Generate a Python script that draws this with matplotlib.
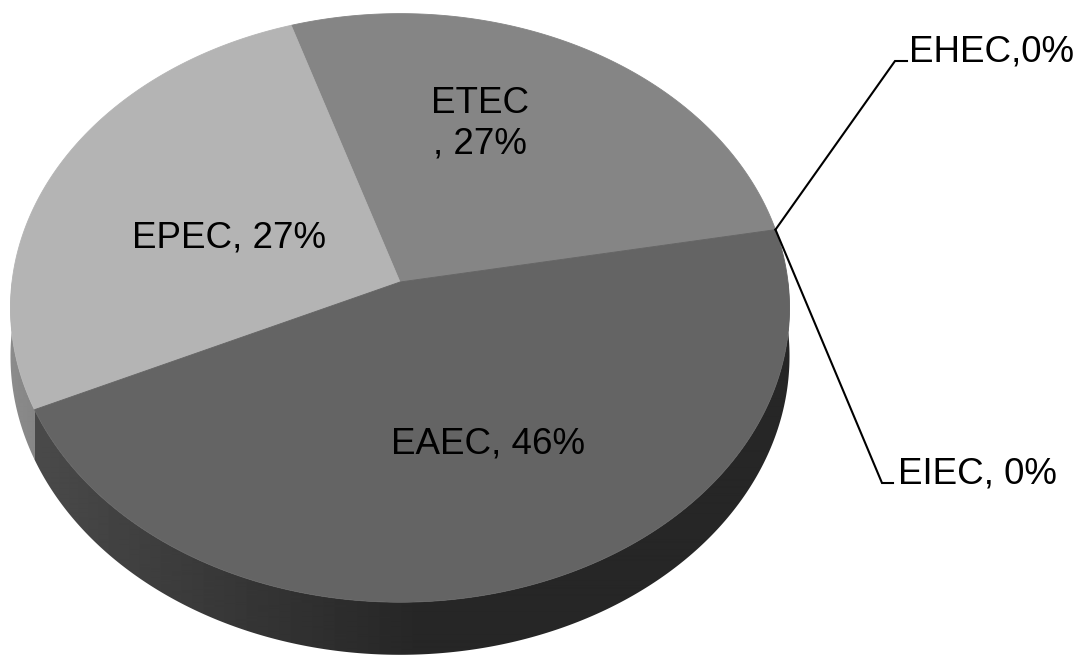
import numpy as np
import matplotlib
matplotlib.use("Agg")
import matplotlib.pyplot as plt
from matplotlib.patches import Polygon

# Pathotype shares (percent), listed counter-clockwise from the start angle
categories = ["ETEC", "EPEC", "EAEC", "EHEC", "EIEC"]
shares = [27, 27, 46, 0, 0]
separators = ["\n, ", ", ", ", ", ",", ", "]
face_colors = [133, 180, 100, 100, 100]   # grey level of each slice's top face

plt.rcParams["font.family"] = ["Liberation Sans", "DejaVu Sans"]

W, H = 1085, 656
fig = plt.figure(figsize=(W / 100, H / 100), dpi=100)
ax = fig.add_axes([0, 0, 1, 1])
ax.set_xlim(0, W)
ax.set_ylim(H, 0)
ax.axis("off")

# 3-D pie projection (pixel space, y pointing down)
CX, CY = 400.0, 282.0
RX, RY = 388.0, 292.0
K = 0.088          # perspective strength
DEPTH = 48.0       # thickness of the disc
START = 10.5       # angle of the first slice boundary (degrees)


def proj(theta_deg, z=0.0):
    t = np.radians(theta_deg)
    s = 1.0 / (1.0 + K * np.sin(t))
    x = CX + RX * np.cos(t) * s
    y = CY - RY * np.sin(t) * s + z * DEPTH * s
    return x, y


def grey(v):
    v = float(np.clip(v, 0, 255)) / 255.0
    return (v, v, v)


def side_factor(theta_deg):
    c = np.cos(np.radians(theta_deg))
    return np.maximum(0.38, 0.40 - 0.38 * c)


spans = []
a = START
for v in shares:
    b = a + 360.0 * v / sum(shares)
    spans.append((a, b))
    a = b

# lookup: screen x along the front rim -> rim angle
front_theta = np.linspace(180.0, 360.0, 2000)
front_x, _ = proj(front_theta)
cols = np.arange(0, W + 1, 1.0)
col_theta = np.interp(cols, front_x, front_theta)

# outer wall (front half only), shaded with a horizontal gradient
for (a0, a1), base in zip(spans, face_colors):
    for off in (0.0, 360.0):
        lo, hi = max(a0, 180.0 + off), min(a1, 360.0 + off)
        if hi <= lo:
            continue
        th = np.linspace(lo, hi, 400)
        xt, yt = proj(th)
        xb, yb = proj(th[::-1], 1)
        pts = list(zip(xt, yt)) + list(zip(xb, yb))
        wall = Polygon(pts, closed=True, facecolor="none", edgecolor="none",
                       zorder=1)
        ax.add_patch(wall)
        shade = np.clip(base * side_factor(col_theta), 0, 255) / 255.0
        img = np.tile(shade, (2, 1))
        im = ax.imshow(img, cmap="gray", vmin=0, vmax=1, aspect="auto",
                       extent=(-0.5, W + 0.5, H, 0), interpolation="bilinear",
                       zorder=1)
        im.set_clip_path(wall)

# top faces
for (a0, a1), base in zip(spans, face_colors):
    if a1 - a0 <= 0:
        continue
    th = np.linspace(a0, a1, 300)
    xs, ys = proj(th)
    pts = [(CX, CY)] + list(zip(xs, ys))
    col = grey(base)
    ax.add_patch(Polygon(pts, closed=True, facecolor=col, edgecolor=col,
                         linewidth=0.6, zorder=2))

ax.set_xlim(0, W)
ax.set_ylim(H, 0)

labels = [f"{c}{sep}{v}%" for c, sep, v in zip(categories, separators, shares)]
FS = 26.5

# in-slice labels (baseline of the last line)
inside = {"ETEC": (480, 153), "EPEC": (229, 248), "EAEC": (488, 453)}
for c, lab in zip(categories, labels):
    if c in inside:
        x, y = inside[c]
        ax.text(x, y, lab, ha="center", va="baseline", fontsize=FS,
                color="black", multialignment="center", linespacing=1.18,
                zorder=5)

# leader-line labels for the empty slices
outside = {"EHEC": ((895, 61), (907, 61), (909, 61)),
           "EIEC": ((882, 483), (893, 483), (898, 483))}
for (a0, a1), c, lab in zip(spans, categories, labels):
    if c in outside:
        ex, ey = proj(a0)
        elbow, end, tpos = outside[c]
        ax.plot([ex, elbow[0], end[0]], [ey, elbow[1], end[1]],
                color="black", linewidth=1.5, solid_joinstyle="miter",
                zorder=4)
        ax.text(tpos[0], tpos[1], lab, ha="left", va="baseline",
                fontsize=FS, color="black", zorder=5)

fig.savefig("out.png", dpi=100, facecolor="white")
